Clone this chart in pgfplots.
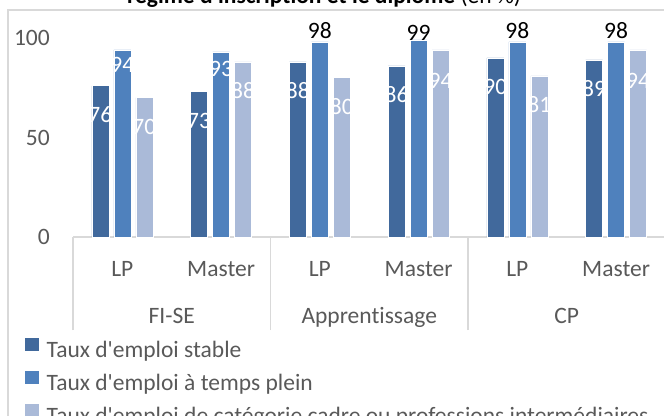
\documentclass[border=0pt]{standalone}
\usepackage{pgfplots}
\pgfplotsset{compat=1.18}
\usepackage{pgfplotstable}
\usepackage{fontspec}
\setmainfont{Carlito}[Ligatures={NoCommon}]
\definecolor{cA}{HTML}{41699C}
\definecolor{cB}{HTML}{4F81BD}
\definecolor{cC}{HTML}{AABAD8}
\definecolor{txt}{HTML}{595959}
\definecolor{gridc}{HTML}{D9D9D9}
\newcommand{\fs}{\fontsize{23.5bp}{28bp}\selectfont}

\pgfplotstableread{
x y off lc
0 76 -29 0
1 73 -29 0
2 88 -29 0
3 86 -29 0
4 90 -29 0
5 89 -29 0
}\dataA
\pgfplotstableread{
x y off lc
0 94 -15 0
1 93 -17 0
2 98 11.5 1
3 99 7.5 1
4 98 11.5 1
5 98 11.5 1
}\dataB
\pgfplotstableread{
x y off lc
0 70 -29 0
1 88 -29 0
2 80 -29 0
3 94 -31 0
4 81 -29 0
5 94 -31 0
}\dataC

\pgfplotsset{
  mybar/.style={
    draw=white, line width=0.6bp,
    visualization depends on={\thisrow{off}\as\off},
    visualization depends on={\thisrow{lc}\as\lc},
    nodes near coords={\ifdim\lc pt>0.5pt \color{black}\else\color{white}\fi\pgfmathprintnumber{\pgfplotspointmeta}},
    nodes near coords style={font=\fs, anchor=center, yshift=\off bp, inner sep=0pt},
    legend image code/.code={\fill[##1, draw=none] (0bp,0.5bp) rectangle (14bp,13.5bp);},
  }
}

\begin{document}
\begin{tikzpicture}
\useasboundingbox (0,0) rectangle (664bp,416bp);
\clip (0,0) rectangle (664bp,416bp);
\draw[gridc, line width=1.5bp] (8bp,0) -- (8bp,406bp) -- (664bp,406bp);
\node[anchor=base, font=\fs, text=black, inner sep=0pt] at (324bp,412bp) {\textbf{régime d\textquotesingle inscription et le diplôme} (en \%)};
\begin{axis}[
  at={(73bp,179bp)}, anchor=south west,
  scale only axis, width=592.5bp, height=199bp,
  xmin=-0.5, xmax=5.5, ymin=0, ymax=100,
  enlargelimits=false,
  clip=false,
  ybar=5bp, bar width=17bp,
  separate axis lines,
  axis x line*=bottom, axis y line*=left,
  y axis line style={draw=none},
  x axis line style={draw=gridc, line width=1.5bp},
  xtick={0,...,5}, xticklabels={LP,Master,LP,Master,LP,Master},
  ytick={0,50,100},
  major tick length=0pt,
  minor xtick={-0.5,1.5,3.5,5.5},
  minor tick length=93bp, tick align=outside,
  minor x tick style={draw=gridc, line width=1.5bp},
  extra x ticks={0.5,2.5,4.5},
  extra x tick labels={FI-SE,Apprentissage,CP},
  extra x tick style={major tick length=0pt, xticklabel style={yshift=-47bp}},
  tick label style={font=\fs, text=txt, inner sep=0pt},
  xticklabel style={anchor=base, yshift=-39.5bp},
  yticklabel style={anchor=east, xshift=-23bp},
  /pgf/number format/assume math mode=true,
  legend style={at={(rel axis cs:-0.081,-0.510)}, anchor=north west, draw=none, fill=none,
    inner sep=0pt, outer sep=0pt, row sep=8.5bp, column sep=7.7bp, font=\fs, text=txt,
    nodes={inner sep=0pt, text height=17bp, text depth=5bp}},
  legend cell align=left,
]
\addplot[mybar, fill=cA, bar shift=-22bp] table[x=x,y=y]{\dataA};
\addplot[mybar, fill=cB, bar shift=0bp] table[x=x,y=y]{\dataB};
\addplot[mybar, fill=cC, bar shift=22bp] table[x=x,y=y]{\dataC};
\legend{Taux d\textquotesingle emploi stable, Taux d\textquotesingle emploi à temps plein, Taux d\textquotesingle emploi de catégorie cadre ou professions intermédiaires}
\end{axis}
\end{tikzpicture}
\end{document}
